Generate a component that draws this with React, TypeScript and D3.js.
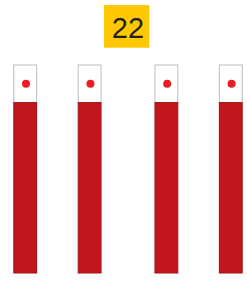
import React from "react";
import * as d3 from "d3";

// chart data
const groups = ["G1", "G2"];
const members = ["a", "b"];
const values = [
  [82, 82],
  [82, 82],
];
const maxValue = 100;
const titleText = "22";

const W = 247;
const H = 282;

const App = () => {
  const outer = d3.scaleBand<string>().domain(groups).range([13.3, 242.7]).paddingInner(0.375).paddingOuter(0);
  const inner = d3.scaleBand<string>().domain(members).range([0, outer.bandwidth()]).paddingInner(0.63).paddingOuter(0);
  const y = d3.scaleLinear().domain([0, maxValue]).range([273.5, 64.5]);

  return (
    <svg width={W} height={H} style={{ position: "absolute", left: 0, top: 0 }}>
      <rect x={104} y={5} width={45.3} height={42.7} fill="#ffc802" />
      <text x={128} y={37.5} textAnchor="middle" fontFamily="Liberation Sans, Arial, sans-serif" fontSize={29} fill="#222">
        {titleText}
      </text>
      {groups.map((g, gi) =>
        members.map((m, mi) => {
          const x0 = (outer(g) ?? 0) + (inner(m) ?? 0);
          const bw = inner.bandwidth();
          const v = values[gi][mi];
          const yTop = y(maxValue);
          const yVal = y(v);
          return (
            <g key={g + m}>
              <rect x={x0 + 0.5} y={yTop + 0.5} width={bw - 1} height={yVal - yTop} fill="#fff" stroke="#bdbdbd" strokeWidth={1} />
              <rect x={x0 + 0.5} y={yVal + 0.5} width={bw - 1} height={y(0) - yVal - 1} fill="#c3151c" stroke="#9e1217" strokeWidth={1} />
              <circle cx={x0 + bw / 2 + 0.8} cy={(yTop + yVal) / 2 + 0.5} r={4} fill="#ec1c24" />
            </g>
          );
        })
      )}
    </svg>
  );
};

export default App;
